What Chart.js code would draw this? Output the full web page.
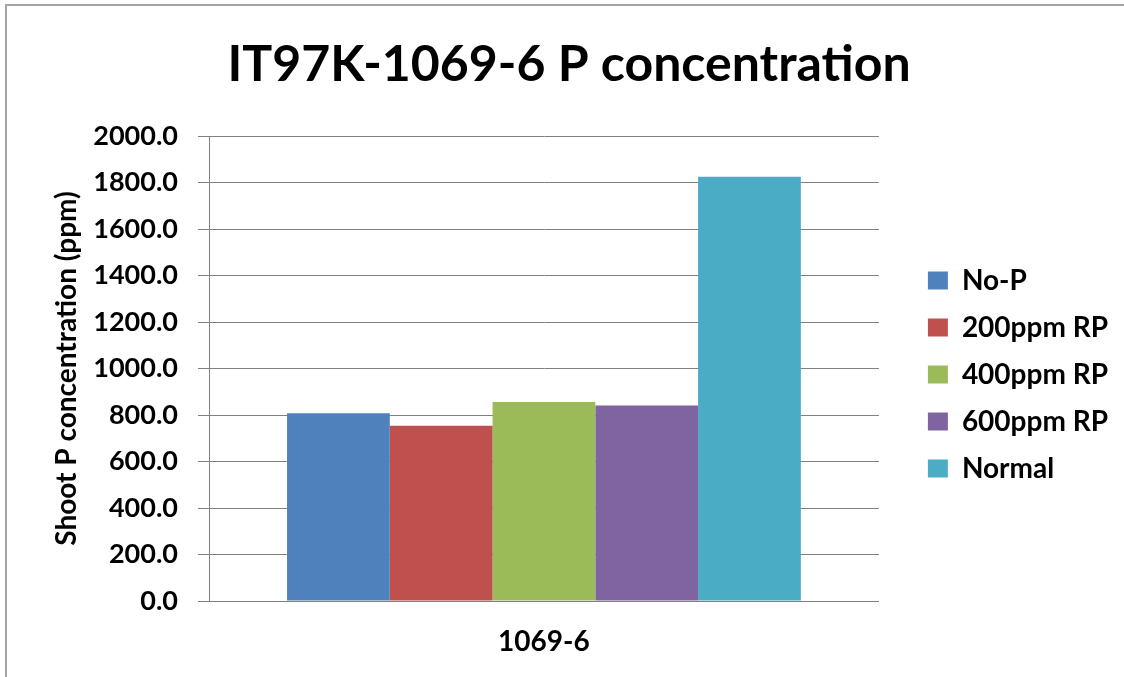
<!DOCTYPE html>
<html>
<head>
<meta charset="utf-8">
<script src="https://cdn.jsdelivr.net/npm/chart.js@4/dist/chart.umd.min.js"></script>
<style>
  html, body { margin: 0; padding: 0; background: #ffffff; overflow: hidden; }
  #frame { position: absolute; left: 5px; top: 4px; width: 1300px; height: 900px;
           border-top: 2px solid #a3a3a3; border-left: 2px solid #a3a3a3; }
  #wrap { position: absolute; left: 0; top: 0; width: 1124px; height: 677px; }
</style>
</head>
<body>
<div id="frame"></div>
<div id="wrap"><canvas id="c" width="1124" height="677"></canvas></div>
<script>
// ---- data ----
const chartTitle = 'IT97K-1069-6 P concentration';
const yAxisTitle = 'Shoot P concentration (ppm)';
const categories = ['1069-6'];
const seriesNames = ['No-P', '200ppm RP', '400ppm RP', '600ppm RP', 'Normal'];
const noP = [808];
const rp200 = [754];
const rp400 = [856];
const rp600 = [841];
const normal = [1825];
const seriesColors = ['#4F81BD', '#C0504D', '#9BBB59', '#8064A2', '#4BACC6'];
const yMin = 0, yMax = 2000, yStep = 200;

const seriesValues = [noP, rp200, rp400, rp600, normal];
const FONT = 'Lato';

const blockShift = {
  id: 'blockShift',
  afterLayout(chart) {
    const lg = chart.legend;
    if (lg) { lg.left += 30; lg.right += 30; lg.top += 6; lg.bottom += 6; }
    const tb = chart.titleBlock;
    if (tb) { tb.left += 25; tb.right += 25; }
  }
};

new Chart(document.getElementById('c'), {
  type: 'bar',
  data: {
    labels: categories,
    datasets: seriesNames.map((name, i) => ({
      label: name,
      data: seriesValues[i],
      backgroundColor: seriesColors[i],
      borderWidth: 0,
      categoryPercentage: 0.767,
      barPercentage: 1.0
    }))
  },
  options: {
    responsive: false,
    animation: false,
    layout: { padding: { left: 0, right: 36, top: 0, bottom: 0 } },
    plugins: {
      title: {
        display: true,
        text: chartTitle,
        color: '#000000',
        font: { family: FONT, size: 50, weight: 'bold' },
        padding: { top: 35, bottom: 41 }
      },
      legend: {
        position: 'right',
        fullSize: false,
        labels: {
          color: '#000000',
          font: { family: FONT, size: 28, weight: 'bold' },
          boxWidth: 20,
          boxHeight: 18,
          padding: 19
        }
      },
      tooltip: { enabled: false }
    },
    scales: {
      x: {
        afterFit(scale) { scale.height = 76; },
        grid: { display: false, drawTicks: false },
        border: { display: true, color: '#808080', width: 1 },
        ticks: {
          color: '#000000',
          padding: 24,
          font: { family: FONT, size: 28, weight: 'bold' }
        }
      },
      y: {
        min: yMin,
        max: yMax,
        afterFit(scale) { scale.width = 209; },
        grid: { color: '#808080', lineWidth: 1, tickLength: 11 },
        border: { display: true, color: '#808080', width: 1 },
        ticks: {
          stepSize: yStep,
          color: '#000000',
          padding: 20,
          font: { family: FONT, size: 27, weight: 'bold' },
          callback: (v) => Number(v).toFixed(1)
        },
        title: {
          display: true,
          text: yAxisTitle,
          color: '#000000',
          font: { family: FONT, size: 28, weight: 'bold' },
          padding: { top: 50, bottom: 0 }
        }
      }
    }
  },
  plugins: [blockShift]
});
</script>
</body>
</html>
